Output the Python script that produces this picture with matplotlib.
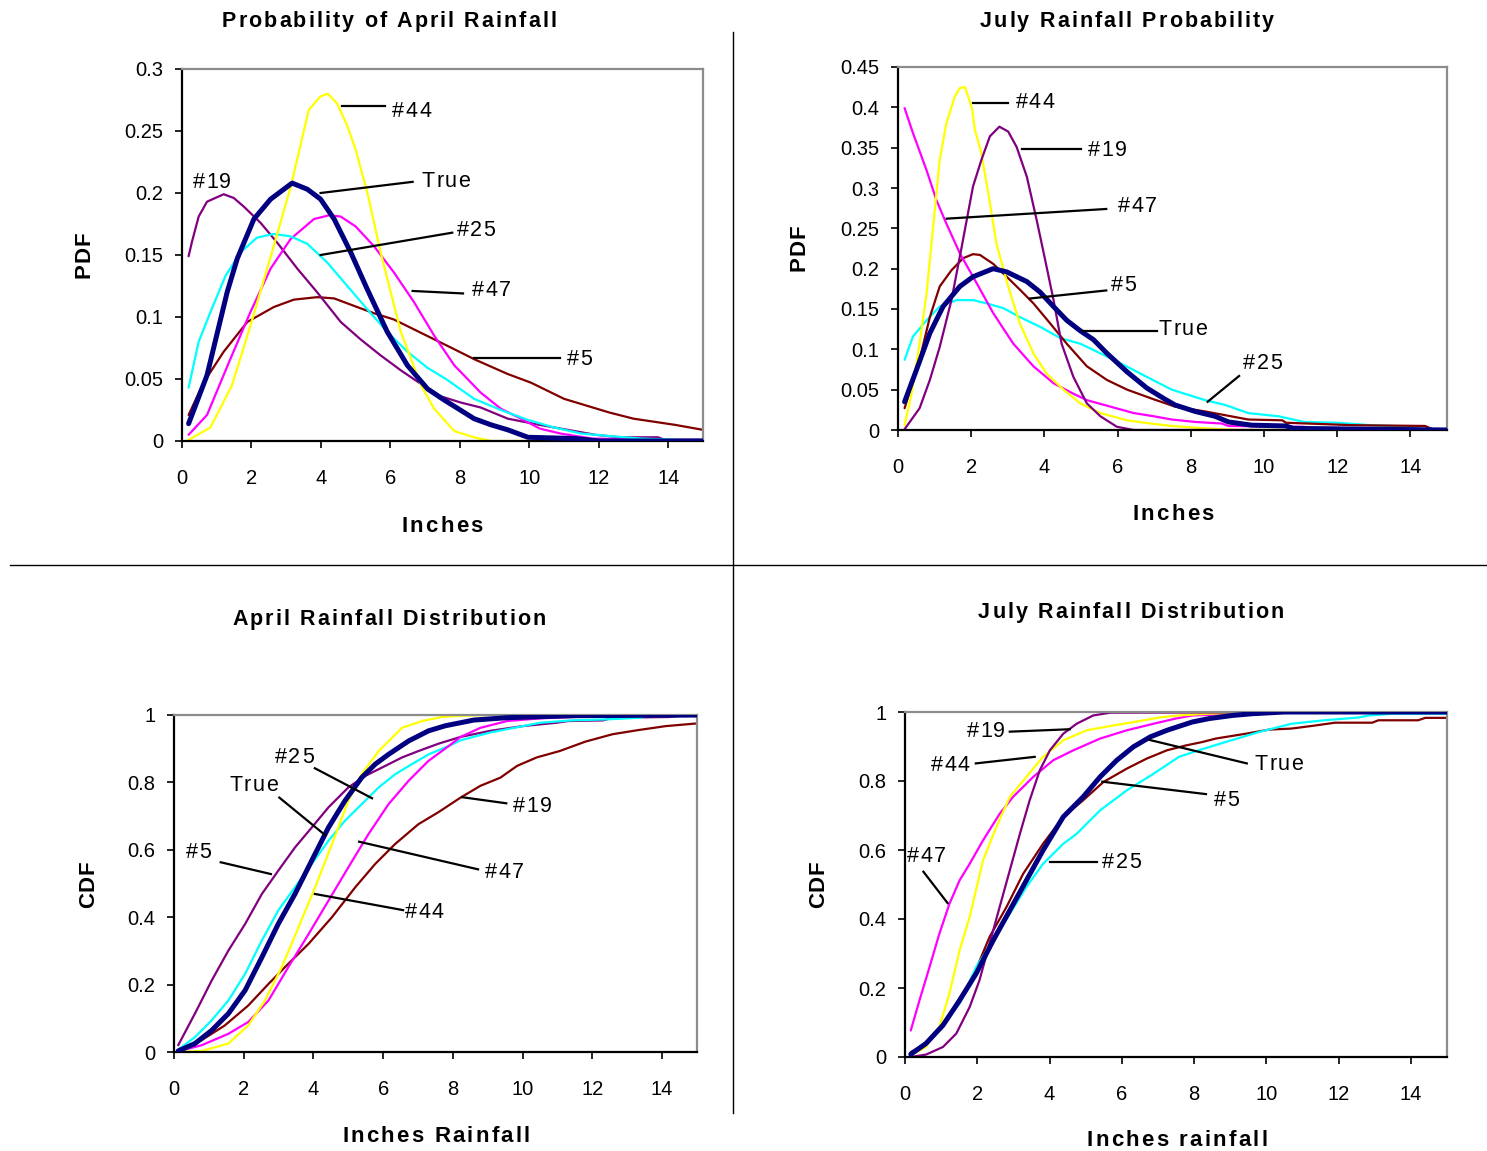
import matplotlib
matplotlib.use('Agg')
import matplotlib.pyplot as plt
from matplotlib.lines import Line2D
from matplotlib import font_manager
from matplotlib.ft2font import FT2Font
from matplotlib.transforms import offset_copy

# ---------------- DATA ----------------
x_ticks = [0, 2, 4, 6, 8, 10, 12, 14]
apr_pdf_yticks = [0, 0.05, 0.1, 0.15, 0.2, 0.25, 0.3]
apr_pdf_yticklabels = ['0', '0.05', '0.1', '0.15', '0.2', '0.25', '0.3']
jul_pdf_yticks = [0, 0.05, 0.1, 0.15, 0.2, 0.25, 0.3, 0.35, 0.4, 0.45]
jul_pdf_yticklabels = ['0', '0.05', '0.1', '0.15', '0.2', '0.25', '0.3', '0.35', '0.4', '0.45']
cdf_yticks = [0, 0.2, 0.4, 0.6, 0.8, 1]
cdf_yticklabels = ['0', '0.2', '0.4', '0.6', '0.8', '1']

# April PDF
apr_pdf_navy_x = [0.19, 0.72, 1.3, 1.59, 2.07, 2.55, 3.17, 3.61, 3.99, 4.38, 4.86, 5.34, 5.91, 6.49, 7.07, 7.55, 7.84, 8.41, 8.9, 9.38, 9.96, 11.3, 12.0, 15.0]
apr_pdf_navy_y = [0.014, 0.053, 0.12, 0.147, 0.179, 0.195, 0.208, 0.203, 0.195, 0.179, 0.152, 0.122, 0.088, 0.061, 0.042, 0.033, 0.028, 0.018, 0.013, 0.009, 0.003, 0.002, 0.0, 0.0]
apr_pdf_yellow_x = [0.14, 0.82, 1.44, 1.97, 2.64, 3.13, 3.65, 3.99, 4.2, 4.47, 4.76, 5.0, 5.34, 5.72, 6.3, 6.88, 7.26, 7.84, 8.4, 8.9, 15.0]
apr_pdf_yellow_y = [0.0, 0.011, 0.045, 0.093, 0.157, 0.205, 0.267, 0.278, 0.28, 0.272, 0.254, 0.235, 0.2, 0.152, 0.088, 0.045, 0.026, 0.008, 0.003, 0.0, 0.0]
apr_pdf_cyan_x = [0.19, 0.48, 0.82, 1.25, 1.68, 2.16, 2.64, 3.13, 3.61, 4.18, 4.76, 5.34, 5.91, 6.49, 7.07, 7.6, 8.41, 9.18, 9.96, 10.7, 11.5, 12.3, 13.2, 14.2, 15.0]
apr_pdf_cyan_y = [0.043, 0.08, 0.104, 0.133, 0.152, 0.164, 0.167, 0.165, 0.159, 0.144, 0.125, 0.106, 0.088, 0.072, 0.059, 0.05, 0.034, 0.025, 0.017, 0.011, 0.006, 0.004, 0.002, 0.001, 0.0]
apr_pdf_magenta_x = [0.19, 0.72, 1.39, 1.97, 2.55, 3.13, 3.8, 4.23, 4.57, 5.0, 5.53, 6.1, 6.68, 7.26, 7.84, 8.6, 9.18, 9.76, 10.3, 10.9, 11.8, 15.0]
apr_pdf_magenta_y = [0.005, 0.021, 0.066, 0.104, 0.139, 0.163, 0.179, 0.182, 0.181, 0.173, 0.157, 0.136, 0.112, 0.085, 0.061, 0.039, 0.026, 0.018, 0.01, 0.006, 0.002, 0.0]
apr_pdf_purple_x = [0.19, 0.29, 0.48, 0.72, 1.2, 1.49, 1.78, 2.26, 2.74, 3.32, 3.89, 4.57, 5.14, 5.72, 6.3, 6.88, 7.45, 8.03, 8.6, 9.38, 10.3, 11.1, 11.9, 12.6, 13.7, 13.9, 15.0]
apr_pdf_purple_y = [0.149, 0.161, 0.181, 0.193, 0.199, 0.196, 0.189, 0.176, 0.16, 0.139, 0.12, 0.096, 0.082, 0.069, 0.057, 0.046, 0.036, 0.031, 0.027, 0.018, 0.013, 0.009, 0.005, 0.003, 0.003, 0.001, 0.001]
apr_pdf_darkred_x = [0.19, 0.62, 1.2, 1.88, 2.64, 3.22, 3.89, 4.38, 4.95, 5.53, 6.1, 6.68, 7.26, 7.84, 8.41, 9.38, 10.05, 11.0, 12.3, 13.0, 14.2, 15.0]
apr_pdf_darkred_y = [0.021, 0.047, 0.072, 0.096, 0.108, 0.114, 0.116, 0.115, 0.109, 0.103, 0.098, 0.09, 0.082, 0.074, 0.066, 0.054, 0.047, 0.034, 0.023, 0.018, 0.013, 0.009]

# July PDF
jul_pdf_yellow_x = [0.18, 0.37, 0.59, 0.78, 0.96, 1.14, 1.32, 1.55, 1.69, 1.83, 1.92, 2.03, 2.1, 2.26, 2.47, 2.69, 3.01, 3.33, 3.7, 4.06, 4.52, 4.98, 5.53, 6.26, 6.9, 7.48, 8.4, 9.3, 15.0]
jul_pdf_yellow_y = [0.006, 0.045, 0.107, 0.169, 0.252, 0.335, 0.38, 0.413, 0.424, 0.425, 0.413, 0.397, 0.372, 0.347, 0.293, 0.231, 0.178, 0.132, 0.095, 0.07, 0.05, 0.033, 0.021, 0.012, 0.008, 0.005, 0.002, 0.0, 0.0]
jul_pdf_purple_x = [0.18, 0.59, 0.87, 1.14, 1.46, 1.74, 2.05, 2.28, 2.51, 2.77, 3.01, 3.24, 3.52, 3.79, 4.02, 4.25, 4.47, 4.79, 5.16, 5.53, 5.98, 6.44, 15.0]
jul_pdf_purple_y = [0.001, 0.027, 0.062, 0.103, 0.161, 0.227, 0.302, 0.335, 0.364, 0.376, 0.37, 0.351, 0.314, 0.26, 0.211, 0.161, 0.107, 0.066, 0.033, 0.017, 0.004, 0.0, 0.0]
jul_pdf_magenta_x = [0.18, 0.41, 0.78, 1.05, 1.32, 1.69, 2.15, 2.6, 3.15, 3.7, 4.25, 4.79, 5.16, 5.8, 6.44, 6.99, 7.48, 8.12, 8.85, 9.03, 11.1, 11.3, 15.0]
jul_pdf_magenta_y = [0.399, 0.368, 0.322, 0.285, 0.256, 0.219, 0.182, 0.145, 0.107, 0.079, 0.058, 0.045, 0.037, 0.029, 0.021, 0.017, 0.013, 0.01, 0.008, 0.005, 0.004, 0.001, 0.0]
jul_pdf_darkred_x = [0.18, 0.59, 0.87, 1.14, 1.46, 1.78, 2.05, 2.24, 2.6, 2.97, 3.33, 3.7, 4.16, 4.61, 5.16, 5.71, 6.26, 6.99, 7.57, 8.39, 9.57, 10.5, 10.6, 12.4, 14.4, 14.6, 15.0]
jul_pdf_darkred_y = [0.027, 0.087, 0.14, 0.178, 0.198, 0.213, 0.218, 0.217, 0.206, 0.19, 0.174, 0.157, 0.132, 0.107, 0.079, 0.062, 0.05, 0.038, 0.029, 0.023, 0.013, 0.012, 0.009, 0.006, 0.005, 0.001, 0.001]
jul_pdf_navy_x = [0.18, 0.5, 0.87, 1.23, 1.69, 2.05, 2.6, 2.97, 3.52, 3.88, 4.25, 4.61, 4.98, 5.34, 5.71, 6.26, 6.8, 7.3, 7.57, 8.12, 8.66, 9.03, 9.66, 10.6, 10.8, 15.0]
jul_pdf_navy_y = [0.035, 0.074, 0.12, 0.153, 0.178, 0.19, 0.2, 0.196, 0.184, 0.171, 0.153, 0.136, 0.123, 0.112, 0.095, 0.072, 0.052, 0.038, 0.031, 0.023, 0.017, 0.01, 0.006, 0.005, 0.002, 0.0]
jul_pdf_cyan_x = [0.18, 0.41, 0.78, 1.14, 1.6, 2.05, 2.42, 2.88, 3.33, 3.88, 4.43, 4.98, 5.53, 6.07, 6.62, 7.48, 8.39, 8.94, 9.57, 10.4, 11.1, 12.0, 12.9, 14.0, 14.3, 15.0]
jul_pdf_cyan_y = [0.087, 0.116, 0.136, 0.153, 0.161, 0.161, 0.157, 0.151, 0.14, 0.128, 0.114, 0.107, 0.095, 0.083, 0.07, 0.05, 0.037, 0.031, 0.021, 0.017, 0.01, 0.009, 0.006, 0.004, 0.001, 0.001]

# April CDF
apr_cdf_purple_x = [0.12, 0.6, 1.08, 1.56, 2.04, 2.52, 2.99, 3.47, 3.95, 4.43, 5.0, 5.48, 6.06, 6.54, 7.01, 7.59, 8.22, 9.07, 10.0, 10.97, 11.3, 12.3, 12.6, 14.2, 14.5, 15.0]
apr_cdf_purple_y = [0.02, 0.114, 0.212, 0.301, 0.38, 0.469, 0.538, 0.607, 0.666, 0.726, 0.785, 0.819, 0.849, 0.874, 0.893, 0.915, 0.935, 0.953, 0.967, 0.977, 0.982, 0.984, 0.992, 0.994, 0.997, 0.997]
apr_cdf_navy_x = [0.12, 0.6, 1.08, 1.56, 2.04, 2.52, 2.99, 3.47, 3.95, 4.43, 4.9, 5.38, 5.77, 6.15, 6.73, 7.3, 7.78, 8.6, 9.55, 10.5, 11.5, 15.0]
apr_cdf_navy_y = [0.003, 0.025, 0.064, 0.114, 0.183, 0.281, 0.38, 0.469, 0.568, 0.666, 0.745, 0.814, 0.854, 0.883, 0.923, 0.953, 0.968, 0.985, 0.992, 0.995, 0.998, 1.0]
apr_cdf_cyan_x = [0.12, 0.6, 1.08, 1.56, 2.04, 2.52, 2.99, 3.47, 3.95, 4.43, 4.9, 5.38, 5.87, 6.34, 6.82, 7.3, 7.88, 8.22, 9.07, 10.0, 10.5, 11.4, 12.4, 13.4, 13.5, 15.0]
apr_cdf_cyan_y = [0.007, 0.044, 0.094, 0.153, 0.232, 0.331, 0.42, 0.489, 0.558, 0.627, 0.686, 0.735, 0.785, 0.824, 0.854, 0.883, 0.908, 0.925, 0.948, 0.967, 0.977, 0.984, 0.987, 0.992, 0.997, 0.997]
apr_cdf_magenta_x = [0.12, 0.79, 1.56, 2.13, 2.71, 3.28, 3.86, 4.43, 5.0, 5.58, 6.15, 6.73, 7.3, 7.88, 8.22, 8.79, 9.55, 10.5, 11.4, 15.0]
apr_cdf_magenta_y = [0.002, 0.02, 0.054, 0.089, 0.153, 0.252, 0.35, 0.449, 0.548, 0.647, 0.735, 0.805, 0.864, 0.908, 0.935, 0.962, 0.982, 0.99, 0.994, 1.0]
apr_cdf_yellow_x = [0.12, 0.79, 1.56, 2.13, 2.61, 3.09, 3.57, 4.05, 4.53, 5.0, 5.38, 5.87, 6.54, 7.11, 7.68, 8.07, 9.0, 15.0]
apr_cdf_yellow_y = [0.0, 0.003, 0.025, 0.079, 0.153, 0.252, 0.37, 0.489, 0.617, 0.745, 0.824, 0.893, 0.962, 0.982, 0.994, 0.997, 1.0, 1.0]
apr_cdf_darkred_x = [0.12, 0.79, 1.46, 2.13, 2.71, 3.28, 3.86, 4.53, 5.2, 5.77, 6.34, 7.01, 7.59, 8.22, 8.79, 9.36, 9.84, 10.4, 11.06, 11.8, 12.58, 13.3, 14.1, 15.0]
apr_cdf_darkred_y = [0.005, 0.035, 0.079, 0.138, 0.202, 0.262, 0.321, 0.4, 0.489, 0.558, 0.617, 0.676, 0.712, 0.755, 0.79, 0.814, 0.849, 0.874, 0.893, 0.921, 0.943, 0.955, 0.967, 0.975]

# July CDF
jul_cdf_magenta_x = [0.16, 0.4, 0.68, 0.95, 1.23, 1.51, 1.79, 2.16, 2.62, 2.99, 3.55, 4.1, 4.66, 5.4, 6.14, 6.88, 7.49, 7.95, 9.34, 10.5, 15.0]
jul_cdf_magenta_y = [0.077, 0.164, 0.261, 0.357, 0.444, 0.512, 0.56, 0.628, 0.705, 0.754, 0.812, 0.86, 0.889, 0.923, 0.947, 0.966, 0.981, 0.99, 0.995, 1.0, 1.0]
jul_cdf_yellow_x = [0.16, 0.58, 0.95, 1.23, 1.51, 1.79, 2.16, 2.53, 2.9, 3.36, 3.82, 4.38, 5.03, 5.77, 6.51, 7.03, 7.58, 8.4, 9.16, 10.0, 15.0]
jul_cdf_yellow_y = [0.005, 0.029, 0.087, 0.184, 0.309, 0.406, 0.57, 0.667, 0.754, 0.812, 0.87, 0.918, 0.947, 0.961, 0.974, 0.984, 0.99, 0.995, 0.997, 1.0, 1.0]
jul_cdf_purple_x = [0.16, 0.58, 1.05, 1.42, 1.79, 2.06, 2.34, 2.62, 2.9, 3.18, 3.45, 3.73, 4.01, 4.38, 4.75, 5.21, 5.68, 15.0]
jul_cdf_purple_y = [0.0, 0.007, 0.029, 0.068, 0.145, 0.222, 0.329, 0.435, 0.541, 0.647, 0.744, 0.831, 0.889, 0.937, 0.966, 0.99, 0.998, 1.0]
jul_cdf_navy_x = [0.16, 0.58, 1.05, 1.51, 1.97, 2.44, 2.9, 3.36, 3.82, 4.38, 4.93, 5.4, 5.86, 6.32, 6.79, 7.25, 7.95, 8.42, 9.06, 9.61, 10.5, 15.0]
jul_cdf_navy_y = [0.008, 0.039, 0.092, 0.164, 0.242, 0.338, 0.425, 0.512, 0.599, 0.696, 0.754, 0.812, 0.86, 0.899, 0.928, 0.947, 0.971, 0.981, 0.99, 0.995, 1.0, 1.0]
jul_cdf_darkred_x = [0.16, 0.58, 1.05, 1.42, 1.88, 2.34, 2.81, 3.27, 3.82, 4.38, 4.93, 5.49, 6.14, 6.69, 7.25, 7.77, 8.23, 8.6, 9.43, 10.08, 10.7, 11.36, 11.9, 12.93, 13.1, 14.2, 14.4, 15.0]
jul_cdf_darkred_y = [0.014, 0.039, 0.087, 0.155, 0.232, 0.348, 0.435, 0.531, 0.618, 0.696, 0.744, 0.797, 0.836, 0.865, 0.889, 0.903, 0.913, 0.923, 0.937, 0.949, 0.952, 0.961, 0.969, 0.969, 0.976, 0.976, 0.983, 0.983]
jul_cdf_cyan_x = [0.16, 0.58, 1.05, 1.51, 1.97, 2.44, 2.9, 3.36, 3.82, 4.38, 4.75, 5.4, 6.14, 6.88, 7.58, 8.13, 8.87, 9.8, 10.7, 11.6, 12.55, 12.84, 13.5, 15.0]
jul_cdf_cyan_y = [0.008, 0.043, 0.097, 0.155, 0.261, 0.338, 0.415, 0.493, 0.56, 0.618, 0.647, 0.715, 0.773, 0.821, 0.87, 0.889, 0.913, 0.942, 0.966, 0.976, 0.984, 0.99, 0.995, 0.995]

# --- colours (Excel default palette) ---
NAVY = '#000080'
YELLOW = '#FFFF00'
CYAN = '#00FFFF'
MAGENTA = '#FF00FF'
PURPLE = '#800080'
DARKRED = '#800000'

FAMILY = 'Liberation Sans'
plt.rcParams['font.family'] = [FAMILY, 'DejaVu Sans']

W, H = 1487, 1151
DPI = 100
fig = plt.figure(figsize=(W / DPI, H / DPI), dpi=DPI)


def px(x, y):
    # pixel (top-left origin) -> figure fraction
    return x / W, 1 - y / H


# ---- letter-spaced text (the Excel export renders text with wide tracking) ----
_fonts = {}


def _font(weight):
    if weight not in _fonts:
        path = font_manager.findfont(font_manager.FontProperties(family=FAMILY, weight=weight))
        _fonts[weight] = FT2Font(path)
    return _fonts[weight]


def advance(c, size, weight):
    f = _font(weight)
    f.set_size(size, DPI)
    return f.load_char(ord(c)).linearHoriAdvance / 65536


def spaced_text(base, x, y, s, size, weight='normal', gap=0.0, ha='center', vertical=False):
    advs = [advance(c, size, weight) for c in s]
    total = sum(advs) + gap * (len(s) - 1)
    pos = -total / 2 if ha == 'center' else 0.0
    cap = 0.69 * size * DPI / 72
    for c, a in zip(s, advs):
        if vertical:
            tr = offset_copy(base, x=cap / 2, y=pos, units='dots')
            fig.text(x, y, c, transform=tr, rotation=90, rotation_mode='anchor',
                     ha='left', va='baseline', fontsize=size, fontweight=weight, zorder=6)
        else:
            tr = offset_copy(base, x=pos, y=-cap / 2, units='dots')
            fig.text(x, y, c, transform=tr, ha='left', va='baseline',
                     fontsize=size, fontweight=weight, zorder=6)
        pos += a + gap


def make_axes(left, top, right, bottom, ylim, yticks, yticklabels):
    ax = fig.add_axes([left / W, 1 - bottom / H, (right - left) / W, (bottom - top) / H])
    ax.set_xlim(0, 15)
    ax.set_ylim(*ylim)
    ax.set_xticks(x_ticks)
    ax.set_xticklabels([str(t) for t in x_ticks])
    ax.set_yticks(yticks)
    ax.set_yticklabels(yticklabels)
    ax.tick_params(direction='out', length=5, width=1.2, labelsize=14.5, colors='black')
    ax.tick_params(axis='y', pad=8.5)
    ax.tick_params(axis='x', pad=15)
    ax.spines['left'].set_color('black')
    ax.spines['bottom'].set_color('black')
    ax.spines['top'].set_color('#8c8c8c')
    ax.spines['right'].set_color('#8c8c8c')
    for s in ax.spines.values():
        s.set_linewidth(1.6)
    return ax


def draw(ax, series):
    for x, y, c in series:
        lw = 3.6 if c == NAVY else 1.6
        ax.plot(x, y, color=c, lw=lw, solid_joinstyle='round', solid_capstyle='round',
                zorder=3 if c == NAVY else 2)


def label(ax, text, tx, ty, line=None):
    if line is not None:
        (x0, y0), (x1, y1) = line
        ax.plot([x0, x1], [y0, y1], color='black', lw=1.6, zorder=4)
    spaced_text(ax.transData, tx, ty, text, 15.5, gap=1.5, ha='left')


# ---------- Panel 1: April PDF ----------
ax1 = make_axes(182, 69, 703, 441, (0, 0.3), apr_pdf_yticks, apr_pdf_yticklabels)
draw(ax1, [(apr_pdf_darkred_x, apr_pdf_darkred_y, DARKRED),
           (apr_pdf_navy_x, apr_pdf_navy_y, NAVY),
           (apr_pdf_purple_x, apr_pdf_purple_y, PURPLE),
           (apr_pdf_magenta_x, apr_pdf_magenta_y, MAGENTA),
           (apr_pdf_cyan_x, apr_pdf_cyan_y, CYAN),
           (apr_pdf_yellow_x, apr_pdf_yellow_y, YELLOW)])
label(ax1, '#44', 6.05, 0.267, ((4.6, 0.270), (5.85, 0.270)))
label(ax1, 'True', 6.9, 0.2105, ((3.99, 0.200), (6.64, 0.209)))
label(ax1, '#25', 7.9, 0.171, ((3.99, 0.150), (7.78, 0.168)))
label(ax1, '#47', 8.35, 0.1226, ((6.64, 0.121), (8.09, 0.119)))
label(ax1, '#5', 11.08, 0.0672, ((8.42, 0.0672), (10.89, 0.0672)))
label(ax1, '#19', 0.3, 0.21)

# ---------- Panel 2: July PDF ----------
ax2 = make_axes(898, 67, 1447, 430, (0, 0.45), jul_pdf_yticks, jul_pdf_yticklabels)
draw(ax2, [(jul_pdf_navy_x, jul_pdf_navy_y, NAVY),
           (jul_pdf_cyan_x, jul_pdf_cyan_y, CYAN),
           (jul_pdf_darkred_x, jul_pdf_darkred_y, DARKRED),
           (jul_pdf_magenta_x, jul_pdf_magenta_y, MAGENTA),
           (jul_pdf_yellow_x, jul_pdf_yellow_y, YELLOW),
           (jul_pdf_purple_x, jul_pdf_purple_y, PURPLE)])
label(ax2, '#44', 3.21, 0.408, ((2.05, 0.405), (3.01, 0.405)))
label(ax2, '#19', 5.19, 0.349, ((3.39, 0.348), (5.0, 0.348)))
label(ax2, '#47', 6.02, 0.280, ((1.33, 0.262), (5.69, 0.274)))
label(ax2, '#5', 5.82, 0.181, ((3.6, 0.163), (5.69, 0.173)))
label(ax2, 'True', 7.12, 0.127, ((5.05, 0.123), (7.09, 0.123)))
label(ax2, '#25', 9.43, 0.0847, ((8.46, 0.035), (9.32, 0.067)))

# ---------- Panel 3: April CDF ----------
ax3 = make_axes(174, 715, 697, 1052, (0, 1), cdf_yticks, cdf_yticklabels)
draw(ax3, [(apr_cdf_darkred_x, apr_cdf_darkred_y, DARKRED),
           (apr_cdf_purple_x, apr_cdf_purple_y, PURPLE),
           (apr_cdf_cyan_x, apr_cdf_cyan_y, CYAN),
           (apr_cdf_magenta_x, apr_cdf_magenta_y, MAGENTA),
           (apr_cdf_yellow_x, apr_cdf_yellow_y, YELLOW),
           (apr_cdf_navy_x, apr_cdf_navy_y, NAVY)])
label(ax3, '#25', 2.89, 0.881, ((4.04, 0.842), (5.68, 0.753)))
label(ax3, 'True', 1.58, 0.797, ((3.02, 0.755), (4.33, 0.644)))
label(ax3, '#5', 0.34, 0.597, ((1.34, 0.563), (2.78, 0.528)))
label(ax3, '#47', 8.91, 0.538, ((5.31, 0.624), (8.72, 0.542)))
label(ax3, '#44', 6.62, 0.421, ((4.04, 0.469), (6.57, 0.421)))
label(ax3, '#19', 9.72, 0.733, ((8.27, 0.756), (9.53, 0.738)))

# ---------- Panel 4: July CDF ----------
ax4 = make_axes(905, 712, 1447, 1057, (0, 1), cdf_yticks, cdf_yticklabels)
draw(ax4, [(jul_cdf_darkred_x, jul_cdf_darkred_y, DARKRED),
           (jul_cdf_cyan_x, jul_cdf_cyan_y, CYAN),
           (jul_cdf_magenta_x, jul_cdf_magenta_y, MAGENTA),
           (jul_cdf_yellow_x, jul_cdf_yellow_y, YELLOW),
           (jul_cdf_purple_x, jul_cdf_purple_y, PURPLE),
           (jul_cdf_navy_x, jul_cdf_navy_y, NAVY)])
label(ax4, '#19', 1.7, 0.95, ((2.9, 0.943), (4.56, 0.95)))
label(ax4, '#44', 0.71, 0.851, ((1.96, 0.851), (3.59, 0.87)))
label(ax4, '#47', 0.06, 0.586, ((0.51, 0.537), (1.18, 0.446)))
label(ax4, '#25', 5.46, 0.568, ((4.0, 0.564), (5.3, 0.564)))
label(ax4, 'True', 9.67, 0.853, ((6.77, 0.919), (9.46, 0.851)))
label(ax4, '#5', 8.54, 0.75, ((5.46, 0.798), (8.33, 0.762)))

# ---------- titles / axis labels ----------
ft = fig.transFigure
for (xp, yp), t in [((389, 20), 'Probability of April Rainfall'),
                    ((1127, 20), 'July Rainfall Probability'),
                    ((389, 618), 'April Rainfall Distribution'),
                    ((1131, 611), 'July Rainfall Distribution')]:
    spaced_text(ft, *px(xp, yp), t, 15.5, weight='bold', gap=2.1)

for (xp, yp), t in [((442, 524), 'Inches'), ((1173, 512), 'Inches'),
                    ((436, 1134), 'Inches Rainfall'), ((1177, 1138), 'Inches rainfall')]:
    spaced_text(ft, *px(xp, yp), t, 16, weight='bold', gap=2.2)

for (xp, yp), t in [((82, 255), 'PDF'), ((797, 248), 'PDF'),
                    ((86, 884), 'CDF'), ((816, 884), 'CDF')]:
    spaced_text(ft, *px(xp, yp), t, 16, weight='bold', gap=1.0, vertical=True)

# divider lines between the four panels
fig.add_artist(Line2D([733 / W, 733 / W], [1 - 32 / H, 1 - 1113 / H], color='black', lw=1.0,
                      transform=ft))
fig.add_artist(Line2D([10 / W, 1], [1 - 565 / H, 1 - 565 / H], color='black', lw=1.0,
                      transform=ft))

fig.savefig('out.png', dpi=DPI, facecolor='white')
